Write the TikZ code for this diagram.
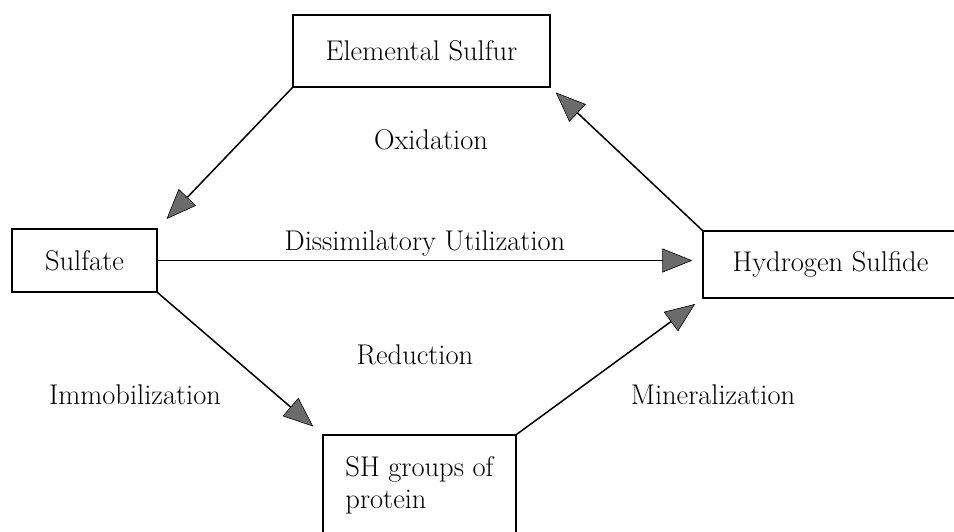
\documentclass[tikz,border=0pt]{standalone}
\usetikzlibrary{arrows.meta}
\begin{document}
\begin{tikzpicture}[x=1pt,y=-1pt,
  box/.style={draw=black, line width=1.3pt, rectangle, inner sep=0pt},
  lbl/.style={inner sep=0pt},
  flow/.style={draw=black, line width=1.5pt,
    -{Triangle[length=30pt,width=24pt,fill=black!58,line width=0.6pt]}},
  every node/.style={font=\fontsize{28.5}{32}\selectfont}]
\clip (0,0) rectangle (954,531);
\fill[white] (0,0) rectangle (954,531);
% boxes
\node[box, minimum width=257pt, minimum height=72pt] (ES) at (421.5,51) {Elemental Sulfur};
\node[box, minimum width=145pt, minimum height=63pt] (S) at (84.5,260.5) {Sulfate};
\node[box, minimum width=255pt, minimum height=67pt] (HS) at (830.5,264.5) {Hydrogen Sulfide};
\node[box, minimum width=193pt, minimum height=100pt, align=left] (SH) at (419.5,485) {SH groups of\\protein};
% labels
\node[lbl] (ox) at (431,140) {Oxidation};
\node[lbl] (du) at (425,243) {Dissimilatory Utilization};
\node[lbl] (red) at (415,355) {Reduction};
\node[lbl] (imm) at (135,395) {Immobilization};
\node[lbl] (min) at (713,395) {Mineralization};
% connectors
\draw[flow, shorten >=13pt] (ES.south west) -- (S.north east);
\draw[flow, shorten >=10pt] (S.east) -- (S.east -| HS.west);
\draw[flow, shorten >=12pt] (S.south east) -- (SH.north west);
\draw[flow, shorten >=9pt] (SH.north east) -- (HS.south west);
\draw[flow, shorten >=7pt] (HS.north west) -- (ES.south east);
\end{tikzpicture}
\end{document}
